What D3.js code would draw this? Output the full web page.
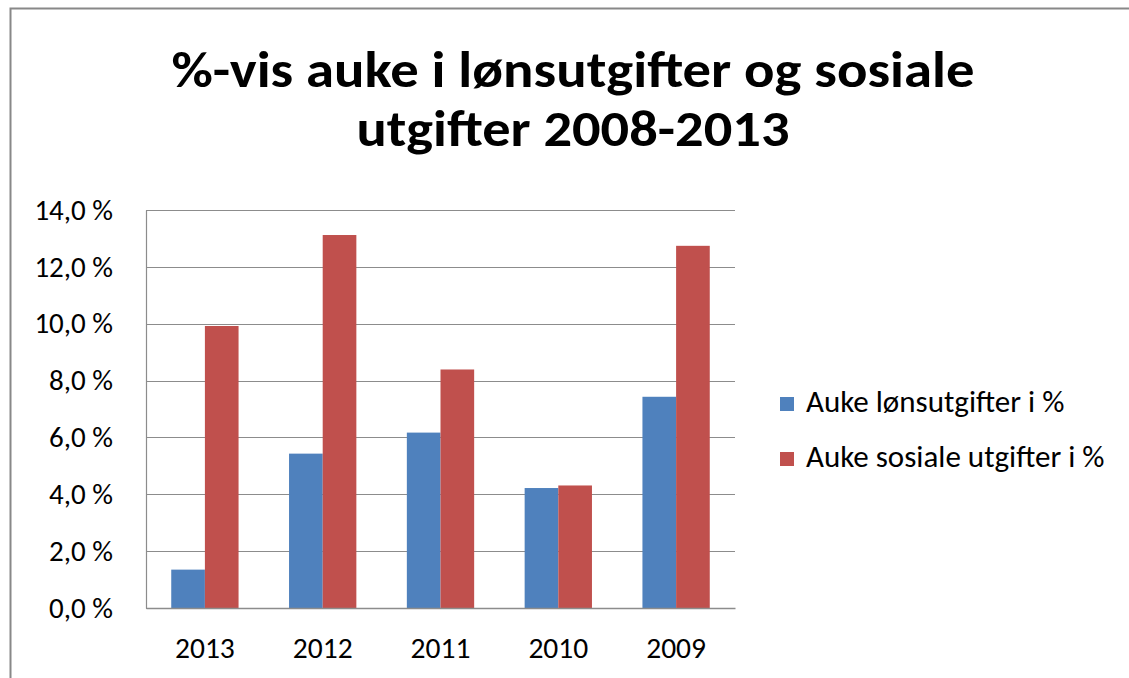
<!DOCTYPE html>
<html>
<head>
  <meta charset="utf-8">
  <title>Auke i lønsutgifter og sosiale utgifter</title>
  <script src="https://d3js.org/d3.v7.min.js"></script>
  <style>
    body { margin: 0; background: #fff; }
    text { font-family: Carlito, "Open Sans", "Liberation Sans", sans-serif; fill: #000; }
  </style>
</head>
<body>
  <script>
    var years = ["2013", "2012", "2011", "2010", "2009"];
    var lonsutgifter = [1.35, 5.43, 6.17, 4.22, 7.43];
    var sosialeUtgifter = [9.92, 13.12, 8.39, 4.31, 12.74];
    var seriesNames = ["Auke lønsutgifter i %", "Auke sosiale utgifter i %"];
    var yTicks = [0, 2, 4, 6, 8, 10, 12, 14];

    var W = 1129, H = 678;
    var plot = {left: 146, right: 735, top: 210, bottom: 608};
    var colors = ["#4F81BD", "#C0504D"];

    var svg = d3.select("body").append("svg")
        .attr("width", W)
        .attr("height", H);

    // chart frame
    svg.append("rect")
        .attr("x", 10.5).attr("y", 8.5)
        .attr("width", W + 20).attr("height", H + 20)
        .attr("fill", "none")
        .attr("stroke", "#888")
        .attr("stroke-width", 2);

    // title
    var title = ["%-vis auke i lønsutgifter og sosiale", "utgifter 2008-2013"];
    var titleWidths = [803, 433];
    svg.selectAll(".title")
      .data(title)
      .enter().append("text")
        .attr("class", "title")
        .attr("x", 573)
        .attr("y", (d, i) => 87 + i * 59)
        .attr("text-anchor", "middle")
        .attr("font-size", 51)
        .attr("font-weight", "bold")
        .attr("textLength", (d, i) => titleWidths[i])
        .attr("lengthAdjust", "spacingAndGlyphs")
        .text(d => d);

    var x0 = d3.scaleBand()
        .domain(years)
        .range([plot.left, plot.right]);

    // gap width 150% -> two bars take 2/3.5 of a category
    var x1 = d3.scaleBand()
        .domain([0, 1])
        .range([x0.bandwidth() * 0.75 / 3.5, x0.bandwidth() * 2.75 / 3.5]);

    var y = d3.scaleLinear()
        .domain([0, 14])
        .range([plot.bottom, plot.top]);

    // gridlines
    svg.append("g")
        .selectAll("line")
        .data(yTicks)
        .enter().append("line")
          .attr("x1", plot.left)
          .attr("x2", plot.right)
          .attr("y1", d => Math.round(y(d)) + 0.5)
          .attr("y2", d => Math.round(y(d)) + 0.5)
          .attr("stroke", "#8c8c8c")
          .attr("stroke-width", 1.2);

    var fmt = d => d.toFixed(1).replace(".", ",") + " %";

    var yAxis = svg.append("g")
        .attr("transform", "translate(" + plot.left + ",0)")
        .call(d3.axisLeft(y).tickValues(yTicks).tickFormat(fmt).tickSize(0).tickPadding(33));
    yAxis.attr("font-family", null).attr("font-size", 29);
    yAxis.select(".domain").attr("stroke", "#8c8c8c").attr("stroke-width", 1.2);
    yAxis.selectAll(".tick text").attr("fill", "#000");

    // bars
    var groups = svg.append("g")
        .selectAll("g")
        .data(years)
        .enter().append("g")
          .attr("transform", d => "translate(" + x0(d) + ",0)");

    groups.selectAll("rect")
        .data((d, i) => [lonsutgifter[i], sosialeUtgifter[i]])
        .enter().append("rect")
          .attr("x", (d, j) => x1(j))
          .attr("y", d => y(d))
          .attr("width", x1.bandwidth())
          .attr("height", d => plot.bottom - y(d))
          .attr("fill", (d, j) => colors[j]);

    var xAxis = svg.append("g")
        .attr("transform", "translate(0," + plot.bottom + ")")
        .call(d3.axisBottom(x0).tickSize(0).tickPadding(29));
    xAxis.attr("font-family", null).attr("font-size", 29.5);
    xAxis.select(".domain").attr("stroke", "#8c8c8c").attr("stroke-width", 1.5);
    xAxis.selectAll(".tick text").attr("fill", "#000");

    // legend
    var legend = svg.append("g")
        .selectAll("g")
        .data(seriesNames)
        .enter().append("g")
          .attr("transform", (d, i) => "translate(780," + (397 + i * 55) + ")");
    legend.append("rect")
        .attr("width", 14).attr("height", 14)
        .attr("fill", (d, i) => colors[i]);
    legend.append("text")
        .attr("x", 26)
        .attr("y", 15)
        .attr("font-size", 31)
        .text(d => d);
  </script>
</body>
</html>
